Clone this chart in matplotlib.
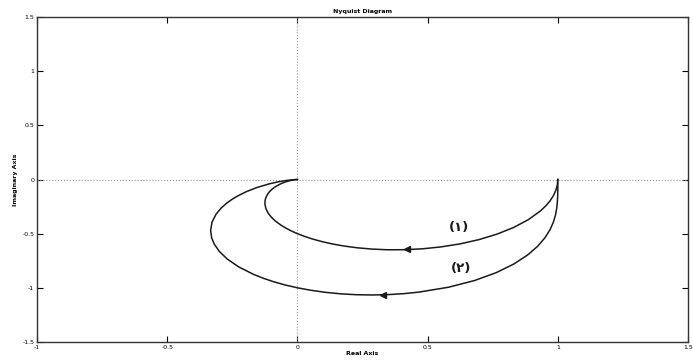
import matplotlib
matplotlib.use("Agg")
import matplotlib.pyplot as plt

# ── Data ──────────────────────────────────────────────────────────────────────
# curve (1): starts at (1, 0), dips to about -0.65, loops back into the origin
curve1_re = [1.0, 0.9981, 0.9925, 0.9833, 0.9705, 0.9543, 0.935, 0.8876,
             0.8304, 0.7659, 0.6964, 0.6243, 0.5515, 0.48, 0.4111, 0.346,
             0.2854, 0.2297, 0.1792, 0.1338, 0.0935, 0.058, 0.0269, 0.0,
             -0.0232, -0.043, -0.0598, -0.0739, -0.0857, -0.0954, -0.1032,
             -0.1096, -0.1145, -0.1211, -0.1249, -0.1239, -0.12, -0.1126,
             -0.1063, -0.0999, -0.0895, -0.08, -0.0641, -0.0519, -0.0355,
             -0.0256, -0.0149, -0.0097, -0.0044, 0.0]
curve1_im = [0.0, -0.0499, -0.0995, -0.1483, -0.1961, -0.2424, -0.2869,
             -0.3698, -0.4429, -0.505, -0.5556, -0.5945, -0.6224, -0.64,
             -0.6484, -0.6488, -0.6424, -0.6306, -0.6144, -0.5949, -0.573,
             -0.5494, -0.5249, -0.5, -0.4751, -0.4504, -0.4264, -0.4031,
             -0.3807, -0.3593, -0.3389, -0.3196, -0.3013, -0.2678, -0.2247,
             -0.1892, -0.16, -0.129, -0.1105, -0.0951, -0.075, -0.06,
             -0.0399, -0.0277, -0.0148, -0.0088, -0.0038, -0.002, -0.0006,
             0.0]

# curve (2): starts at (1, 0), dips to about -1.07, leftmost near -0.33
curve2_re = [1.0, 1.0, 1.0, 0.9995, 0.9983, 0.9958, 0.9912, 0.9832, 0.9704,
             0.9511, 0.9231, 0.884, 0.8316, 0.7639, 0.6799, 0.5803, 0.4678,
             0.4081, 0.3471, 0.2856, 0.2246, 0.1647, 0.1069, 0.0518, 0.0,
             -0.0481, -0.0921, -0.1319, -0.1674, -0.2261, -0.2693, -0.2994,
             -0.3185, -0.3291, -0.3333, -0.3279, -0.3124, -0.2925, -0.2713,
             -0.2504, -0.2308, -0.1961, -0.1553, -0.1096, -0.081, -0.0622,
             -0.0399, -0.0278, -0.0156, -0.01, -0.0044, 0.0]
curve2_im = [0.0, -0.0501, -0.101, -0.1534, -0.208, -0.2656, -0.3268,
             -0.3922, -0.4621, -0.5367, -0.6154, -0.6971, -0.7796, -0.8598,
             -0.9332, -0.9948, -1.0395, -1.0541, -1.0632, -1.0663, -1.0637,
             -1.0554, -1.0417, -1.023, -1.0, -0.9732, -0.9434, -0.9111,
             -0.8771, -0.8062, -0.7346, -0.6653, -0.6002, -0.5402, -0.4714,
             -0.3934, -0.3204, -0.2631, -0.218, -0.1823, -0.1538, -0.1123,
             -0.0739, -0.0411, -0.0252, -0.0166, -0.0083, -0.0048, -0.002,
             -0.001, -0.0003, 0.0]

# direction arrows (pointing left) and the curve labels
arrow_x = [0.42, 0.33]
arrow_y = [-0.645, -1.065]
labels = ["(۱)", "(۲)"]
label_x = [0.62, 0.63]
label_y = [-0.44, -0.82]

x_ticks = [-1, -0.5, 0, 0.5, 1, 1.5]
y_ticks = [-1.5, -1, -0.5, 0, 0.5, 1, 1.5]

# ── Plot ──────────────────────────────────────────────────────────────────────
fig = plt.figure(figsize=(6.93, 3.63), dpi=100)
ax = fig.add_axes([0.0534, 0.058, 0.9394, 0.895])

ax.axhline(0, color="#999999", linestyle=":", linewidth=0.8)
ax.axvline(0, color="#999999", linestyle=":", linewidth=0.8)

ax.plot(curve1_re, curve1_im, color="#1a1a1a", linewidth=1.1)
ax.plot(curve2_re, curve2_im, color="#1a1a1a", linewidth=1.1)
ax.plot(arrow_x, arrow_y, linestyle="none", marker="<", markersize=4,
        color="#1a1a1a")

for txt, lx, ly in zip(labels, label_x, label_y):
    ax.text(lx, ly, txt, fontsize=9.5, fontweight="bold", ha="center",
            va="center", family=["DejaVu Sans"], color="#1a1a1a")

ax.set_xlim(-1, 1.5)
ax.set_ylim(-1.5, 1.5)
ax.set_xticks(x_ticks)
ax.set_xticklabels([f"{v:g}" for v in x_ticks])
ax.set_yticks(y_ticks)
ax.set_yticklabels([f"{v:g}" for v in y_ticks])
ax.tick_params(direction="in", length=4, width=0.8, labelsize=4.5,
               top=True, right=True, pad=2)
for sp in ax.spines.values():
    sp.set_linewidth(1.0)
    sp.set_color("#333333")

ax.set_title("Nyquist Diagram", fontsize=4.5, fontweight="bold", pad=3)
ax.set_xlabel("Real Axis", fontsize=4.5, fontweight="bold", labelpad=1)
ax.set_ylabel("Imaginary Axis", fontsize=4.5, fontweight="bold", labelpad=3)

fig.savefig("out.png", dpi=100)
